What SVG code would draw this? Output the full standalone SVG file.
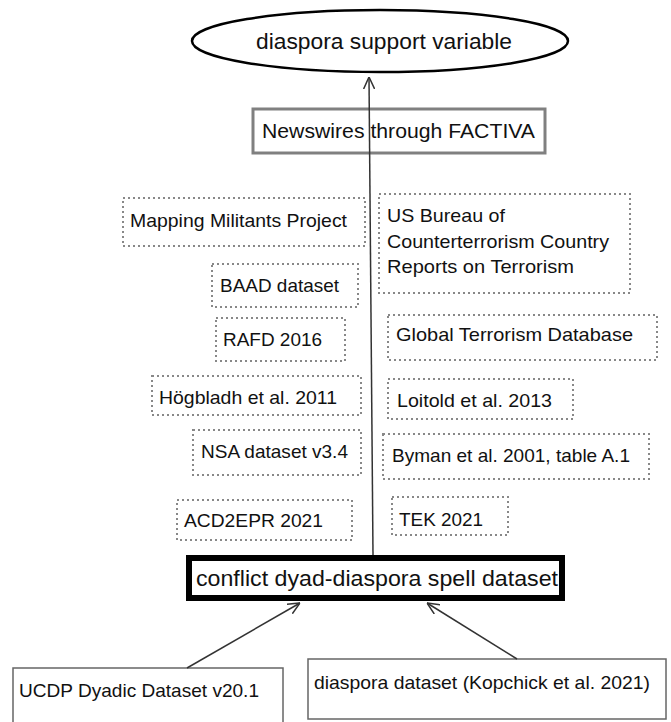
<svg xmlns="http://www.w3.org/2000/svg" width="671" height="722" viewBox="0 0 671 722">
<style>
text{font-family:"Liberation Sans",Arial,sans-serif;fill:#111}
.dot{fill:#fff;stroke:#888;stroke-width:2;stroke-dasharray:2 3}
.t19{font-size:19px}
.conn{stroke:#333;stroke-width:1.5;fill:none;marker-end:url(#arr)}
</style>
<defs>
<marker id="arr" viewBox="0 0 12 12" refX="12" refY="6" markerWidth="12" markerHeight="12" markerUnits="userSpaceOnUse" orient="auto">
<path d="M0,0.5 L12,6 L0,11.5" fill="none" stroke="#333" stroke-width="1.5"/>
</marker>
</defs>
<rect width="671" height="722" fill="#fff"/>
<g id="n-ellipse">
<ellipse cx="380" cy="41" rx="188" ry="31" fill="#fff" stroke="#000" stroke-width="2.5"/>
<text x="256" y="49" font-size="22" textLength="256" lengthAdjust="spacingAndGlyphs">diaspora support variable</text>
</g>
<g id="n-newswires">
<rect x="253" y="109" width="292" height="44" fill="#fff" stroke="#808080" stroke-width="3"/>
<text x="262" y="138" font-size="21" textLength="273" lengthAdjust="spacingAndGlyphs">Newswires through FACTIVA</text>
</g>
<g id="n-mmp"><rect class="dot" x="123" y="198" width="242" height="48"/><text class="t19" x="130" y="227" textLength="217" lengthAdjust="spacingAndGlyphs">Mapping Militants Project</text></g>
<g id="n-baad"><rect class="dot" x="212" y="264" width="146" height="43"/><text class="t19" x="220" y="292" textLength="119" lengthAdjust="spacingAndGlyphs">BAAD dataset</text></g>
<g id="n-rafd"><rect class="dot" x="216" y="318" width="129" height="43"/><text class="t19" x="223" y="346" textLength="99" lengthAdjust="spacingAndGlyphs">RAFD 2016</text></g>
<g id="n-hogbladh"><rect class="dot" x="152" y="376" width="209" height="39"/><text class="t19" x="159" y="404" textLength="178" lengthAdjust="spacingAndGlyphs">Högbladh et al. 2011</text></g>
<g id="n-nsa"><rect class="dot" x="193" y="430" width="168" height="45"/><text class="t19" x="201" y="458" textLength="147" lengthAdjust="spacingAndGlyphs">NSA dataset v3.4</text></g>
<g id="n-acd2epr"><rect class="dot" x="177" y="500" width="175" height="40"/><text class="t19" x="184" y="527" textLength="139" lengthAdjust="spacingAndGlyphs">ACD2EPR 2021</text></g>
<g id="n-usbureau"><rect class="dot" x="379" y="194" width="251" height="99"/>
<text class="t19" x="387" y="222" textLength="118" lengthAdjust="spacingAndGlyphs">US Bureau of</text>
<text class="t19" x="387" y="248" textLength="222" lengthAdjust="spacingAndGlyphs">Counterterrorism Country</text>
<text class="t19" x="387" y="273" textLength="187" lengthAdjust="spacingAndGlyphs">Reports on Terrorism</text></g>
<g id="n-gtd"><rect class="dot" x="388" y="315" width="269" height="45"/><text class="t19" x="396" y="341" textLength="237" lengthAdjust="spacingAndGlyphs">Global Terrorism Database</text></g>
<g id="n-loitold"><rect class="dot" x="388" y="379" width="185" height="40"/><text class="t19" x="397" y="407" textLength="155" lengthAdjust="spacingAndGlyphs">Loitold et al. 2013</text></g>
<g id="n-byman"><rect class="dot" x="383" y="434" width="266" height="45"/><text class="t19" x="392" y="462" textLength="238" lengthAdjust="spacingAndGlyphs">Byman et al. 2001, table A.1</text></g>
<g id="n-tek"><rect class="dot" x="392" y="497" width="116" height="38"/><text class="t19" x="399" y="526" textLength="84" lengthAdjust="spacingAndGlyphs">TEK 2021</text></g>
<g id="n-conflict">
<rect x="189" y="558" width="373" height="40" fill="#fff" stroke="#000" stroke-width="6"/>
<text x="196" y="586" font-size="22" textLength="362" lengthAdjust="spacingAndGlyphs">conflict dyad-diaspora spell dataset</text>
</g>
<g id="n-ucdp">
<rect x="13" y="668" width="270" height="70" fill="#fff" stroke="#666" stroke-width="1.5"/>
<text x="19" y="697" font-size="19" textLength="240" lengthAdjust="spacingAndGlyphs">UCDP Dyadic Dataset v20.1</text>
</g>
<g id="n-diaspora">
<rect x="308" y="659" width="358" height="60" fill="#fff" stroke="#666" stroke-width="1.5"/>
<text x="314" y="689" font-size="19" textLength="336" lengthAdjust="spacingAndGlyphs">diaspora dataset (Kopchick et al. 2021)</text>
</g>
<g id="connectors">
<line class="conn" x1="373" y1="555" x2="369" y2="77"/>
<line class="conn" x1="187" y1="668" x2="300" y2="603"/>
<line class="conn" x1="517" y1="659" x2="427" y2="603"/>
</g>
</svg>
